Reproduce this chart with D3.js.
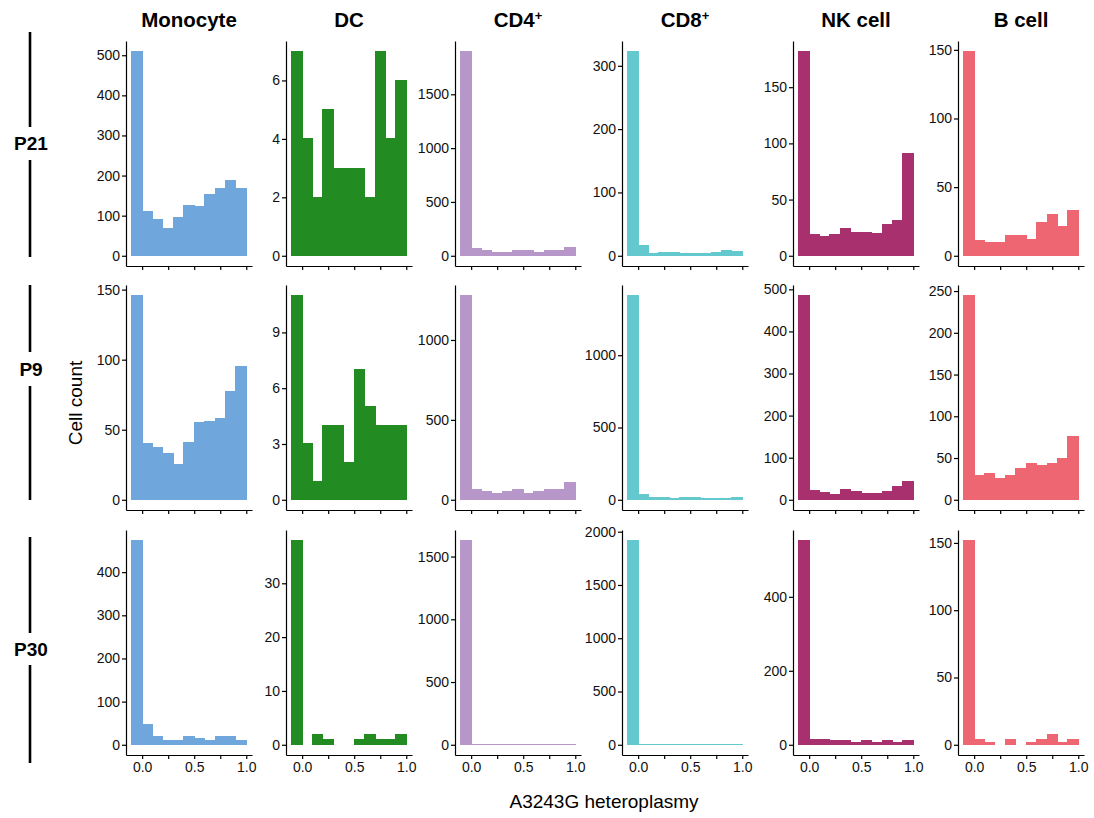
<!DOCTYPE html>
<html>
<head>
<meta charset="utf-8">
<script src="https://cdn.jsdelivr.net/npm/d3@7"></script>
<style>
  body { margin: 0; background: #fff; }
  svg { font-family: "Liberation Sans", Arial, sans-serif; }
  .tick text { font-size: 14px; fill: #111; }
  .domain, .tick line { stroke: #000; stroke-width: 1.2; }
</style>
</head>
<body>
<div id="chart"></div>
<script>
// cell types (columns) and patients (rows)
var cellTypes = ["Monocyte", "DC", "CD4", "CD8", "NK cell", "B cell"];
var patients = ["P21", "P9", "P30"];
var colours = ["#6FA6DC", "#228B22", "#B796C9", "#63C9CF", "#A8306F", "#EE6672"];

// left edge of each histogram bin (binwidth 0.1)
var binStarts = [-0.1, 0.0, 0.1, 0.2, 0.3, 0.4, 0.5, 0.6, 0.7, 0.8, 0.9];
var binWidth = 0.1;

// cell counts per bin, one list per cell type
var p21Counts = [
  [510, 110, 91, 67, 95, 125, 122, 154, 168, 188, 168],
  [7, 4, 2, 5, 3, 3, 3, 2, 7, 4, 6],
  [1900, 65, 50, 35, 35, 48, 48, 35, 48, 48, 80],
  [323, 16, 3, 5, 5, 3, 3, 3, 5, 8, 6],
  [182, 19, 17, 19, 24, 21, 21, 20, 28, 31, 91],
  [149, 11, 10, 10, 15, 15, 12, 24, 30, 21, 33]
];
var p9Counts = [
  [146, 40, 37, 33, 25, 41, 55, 56, 58, 77, 95],
  [11, 3, 1, 4, 4, 2, 7, 5, 4, 4, 4],
  [1280, 62, 52, 41, 52, 62, 41, 52, 62, 62, 110],
  [1415, 34, 16, 16, 7, 16, 16, 7, 7, 7, 16],
  [486, 21, 17, 13, 24, 20, 16, 16, 20, 31, 43],
  [245, 29, 31, 25, 29, 38, 44, 41, 44, 50, 76]
];
var p30Counts = [
  [474, 46, 19, 11, 11, 19, 15, 11, 19, 19, 11],
  [38, 0, 2, 1, 0, 0, 1, 2, 1, 1, 2],
  [1630, 3, 2, 2, 2, 2, 2, 2, 2, 2, 3],
  [1920, 3, 3, 2, 2, 2, 2, 2, 2, 2, 3],
  [553, 15, 15, 11, 11, 6, 11, 6, 11, 6, 11],
  [152, 4, 2, 0, 4, 0, 2, 4, 8, 2, 4]
];
var allCounts = [p21Counts, p9Counts, p30Counts];

// y tick values per panel
var p21Ticks = [[0, 100, 200, 300, 400, 500], [0, 2, 4, 6], [0, 500, 1000, 1500], [0, 100, 200, 300], [0, 50, 100, 150], [0, 50, 100, 150]];
var p9Ticks = [[0, 50, 100, 150], [0, 3, 6, 9], [0, 500, 1000], [0, 500, 1000], [0, 100, 200, 300, 400, 500], [0, 50, 100, 150, 200, 250]];
var p30Ticks = [[0, 100, 200, 300, 400], [0, 10, 20, 30], [0, 500, 1000, 1500], [0, 500, 1000, 1500, 2000], [0, 200, 400], [0, 50, 100, 150]];
var allTicks = [p21Ticks, p9Ticks, p30Ticks];

// x ticks
var xTicks = [0, 0.25, 0.5, 0.75, 1];
var xTickLabels = ["0.0", "", "0.5", "", "1.0"];

// layout
var svgWidth = 1094;
var svgHeight = 818;
var panelW = 126;
var panelH = 225;
var colX = [126, 286, 455, 622, 793, 958];
var rowY = [41, 285, 530];

var svg = d3.select("#chart")
  .append("svg")
  .attr("width", svgWidth)
  .attr("height", svgHeight);

patients.forEach(function(patient, r) {
  cellTypes.forEach(function(cell, c) {
    var counts = allCounts[r][c];
    var g = svg.append("g")
      .attr("transform", `translate(${colX[c]}, ${rowY[r]})`);

    var xScale = d3.scaleLinear()
      .domain([-0.155, 1.055])
      .range([0, panelW]);

    var yMax = d3.max(counts);
    var yScale = d3.scaleLinear()
      .domain([-0.05 * yMax, 1.05 * yMax])
      .range([panelH, 0]);

    // bars
    g.selectAll("rect")
      .data(binStarts)
      .enter()
      .append("rect")
      .attr("x", d => xScale(d))
      .attr("width", d => xScale(d + binWidth) - xScale(d))
      .attr("y", (d, i) => yScale(counts[i]))
      .attr("height", (d, i) => yScale(0) - yScale(counts[i]))
      .attr("fill", colours[c])
      .attr("stroke", colours[c])
      .attr("stroke-width", 1)
      .attr("shape-rendering", "crispEdges");

    // axes
    g.append("g")
      .call(d3.axisLeft(yScale)
        .tickValues(allTicks[r][c])
        .tickFormat(d3.format("d"))
        .tickSize(4)
        .tickSizeOuter(0)
        .tickPadding(2));

    g.append("g")
      .attr("transform", `translate(0, ${panelH})`)
      .call(d3.axisBottom(xScale)
        .tickValues(xTicks)
        .tickSize(4)
        .tickSizeOuter(0)
        .tickPadding(3)
        .tickFormat((d, i) => r === 2 ? xTickLabels[i] : ""));

    // column titles
    if (r === 0) {
      var title = svg.append("text")
        .attr("x", colX[c] + panelW / 2)
        .attr("y", 27)
        .attr("text-anchor", "middle")
        .style("font-size", "20.5px")
        .style("font-weight", "bold");
      if (cell === "CD4" || cell === "CD8") {
        title.append("tspan").text(cell);
        title.append("tspan")
          .attr("dy", -7)
          .style("font-size", "13px")
          .text("+");
      } else {
        title.text(cell);
      }
    }
  });
});

// row strips on the left
var stripLines = [[32, 127, 160, 257], [285, 352, 386, 500], [537, 633, 665, 763]];
var stripTextY = [143, 369, 649];

patients.forEach(function(patient, r) {
  var s = stripLines[r];
  svg.append("line")
    .attr("x1", 30).attr("x2", 30)
    .attr("y1", s[0]).attr("y2", s[1])
    .attr("stroke", "#000").attr("stroke-width", 2.6);
  svg.append("line")
    .attr("x1", 30).attr("x2", 30)
    .attr("y1", s[2]).attr("y2", s[3])
    .attr("stroke", "#000").attr("stroke-width", 2.6);
  svg.append("text")
    .attr("x", 31)
    .attr("y", stripTextY[r])
    .attr("dy", "0.35em")
    .attr("text-anchor", "middle")
    .style("font-size", "19px")
    .style("font-weight", "bold")
    .text(patient);
});

// axis titles
svg.append("text")
  .attr("transform", "translate(82, 403) rotate(-90)")
  .attr("text-anchor", "middle")
  .style("font-size", "19px")
  .text("Cell count");

svg.append("text")
  .attr("x", 604)
  .attr("y", 808)
  .attr("text-anchor", "middle")
  .style("font-size", "19px")
  .text("A3243G heteroplasmy");
</script>
</body>
</html>
